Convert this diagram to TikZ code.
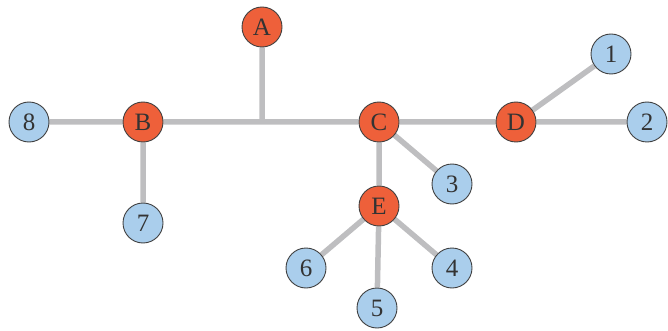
\documentclass[tikz,border=0pt]{standalone}
\usepackage{fontspec}
\setmainfont{Liberation Serif}
\usetikzlibrary{backgrounds}
\definecolor{hubfill}{RGB}{238,96,58}
\definecolor{leaffill}{RGB}{170,206,236}
\definecolor{linkgray}{RGB}{190,190,192}
\begin{document}
\begin{tikzpicture}[x=1pt,y=-1pt,
  vertex/.style={circle,draw=black!75,line width=0.9pt,minimum size=40pt,inner sep=0pt,
    font=\fontsize{25}{25}\selectfont,text=black!80},
  hub/.style={vertex,fill=hubfill},
  leaf/.style={vertex,fill=leaffill},
  link/.style={draw=linkgray,line width=5.5pt}]
\useasboundingbox (0,0) rectangle (668,331);
% tree nodes
\node[hub] (A) at (262,27) {A};
\node[hub] (B) at (143,122) {B};
\node[hub] (C) at (379,122) {C};
\node[hub] (D) at (516,122) {D};
\node[hub] (E) at (379,206) {E};
\node[leaf] (n8) at (29,122) {8};
\node[leaf] (n7) at (143,223) {7};
\node[leaf] (n1) at (611,54) {1};
\node[leaf] (n2) at (647,122) {2};
\node[leaf] (n3) at (452,184) {3};
\node[leaf] (n4) at (452,268) {4};
\node[leaf] (n5) at (377,308) {5};
\node[leaf] (n6) at (306,268) {6};
\coordinate (J) at (262,122);
% connectors, kept underneath the nodes
\begin{pgfonlayer}{background}
\path[link] (B) -- (C) (A) -- (J) (C) -- (D) (D) -- (n2) (D) -- (n1)
  (C) -- (E) (C) -- (n3) (E) -- (n6) (E) -- (n5) (E) -- (n4)
  (B) -- (n8) (B) -- (n7);
\end{pgfonlayer}
\end{tikzpicture}
\end{document}
